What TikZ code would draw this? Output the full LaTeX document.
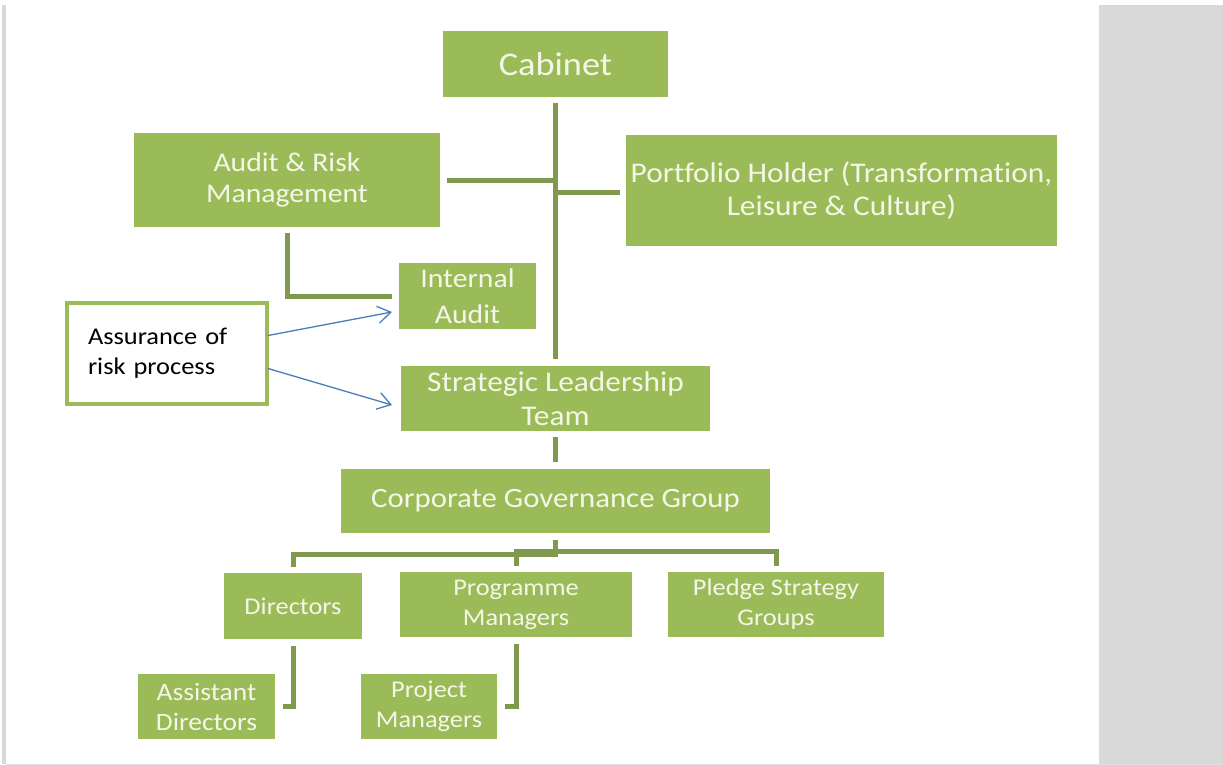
\documentclass[tikz,border=0pt]{standalone}
\usepackage{fontspec}
\setmainfont[FakeStretch=1.1,Ligatures=NoCommon]{Carlito}
\usetikzlibrary{arrows.meta,calc}
\definecolor{boxgreen}{HTML}{9BBB59}
\definecolor{linegreen}{HTML}{7F9A4E}
\definecolor{txt}{HTML}{F4F7E8}
\definecolor{arrowblue}{HTML}{4A7EBB}
\definecolor{panel}{HTML}{D9D9D9}
\newcommand\fsz[2]{\fontsize{#1}{#2}\selectfont}
\begin{document}
\begin{tikzpicture}[x=1pt,y=-1pt,
  gbox/.style 2 args={fill=boxgreen, text=txt, align=center, inner sep=0pt, outer sep=0pt,
    minimum width=#1, minimum height=#2},
  assbox/.style={draw=boxgreen, line width=4.5pt, fill=white, text=black, align=left,
    inner sep=0pt, outer sep=0pt, minimum width=200pt, minimum height=101pt, text width=158pt},
  conn/.style={draw=linegreen, line width=5pt},
  arr/.style={draw=arrowblue, line width=1.3pt, -{Straight Barb[length=13pt,width=17pt,line width=1.3pt]}}]
\useasboundingbox (0,0) rectangle (1223,765);
\fill[white] (0,0) rectangle (1223,765);
\fill[panel] (2,5) rectangle (6,764);
\fill[panel] (1099,5) rectangle (1223,764);
\fill[panel!80] (6,763.5) rectangle (1223,765);

% nodes
\node[gbox={225pt}{66pt}, font=\fsz{33}{38}] (cab) at (555.5,64) {Cabinet};
\node[gbox={306pt}{94pt}, font=\fsz{27}{31}] (arm) at (287,180) {Audit \& Risk\\Management};
\node[gbox={431pt}{111pt}, font=\fsz{28.5}{33}] (port) at (841.5,190.5) {Portfolio Holder (Transformation,\\Leisure \& Culture)};
\node[gbox={137pt}{66pt}, font=\fsz{27}{36}] (ia) at (467.5,296) {Internal\\Audit};
\node[assbox, font=\fsz{24}{30}] (ass) at (167,353.5) {Assurance of\\risk process};
\node[gbox={309pt}{65pt}, font=\fsz{28.5}{34}] (slt) at (555.5,398.5) {Strategic Leadership\\Team};
\node[gbox={429pt}{64pt}, font=\fsz{28}{32}] (cgg) at (555.5,501) {Corporate Governance Group};
\node[gbox={138pt}{66pt}, font=\fsz{24}{30}] (dir) at (293,606) {Directors};
\node[gbox={232pt}{65pt}, font=\fsz{24}{30}] (pm) at (516,604.5) {Programme\\Managers};
\node[gbox={216pt}{65pt}, font=\fsz{24}{30}] (pl) at (776,604.5) {Pledge Strategy\\Groups};
\node[gbox={137pt}{65pt}, font=\fsz{25}{30}] (ad) at (206.5,706.5) {Assistant\\Directors};
\node[gbox={136pt}{65pt}, font=\fsz{24}{30}] (pj) at (429,706.5) {Project\\Managers};

% connectors
\draw[conn, shorten <=6pt, shorten >=7pt] (cab) -- (slt);
\draw[conn, shorten <=7pt] (arm.east) -- (cab.south |- arm.east);
\coordinate (j2) at (555.5,192);
\draw[conn, shorten >=6pt] (j2) -- (j2 -| port.west);
\draw[conn, shorten <=6pt, shorten >=7pt] (arm.south) |- (ia.west);
\draw[conn, shorten <=6pt, shorten >=7pt] (slt) -- (cgg);
\coordinate (busL) at (555.5,554);
\coordinate (busR) at (555.5,551);
\draw[conn, shorten <=7pt] (cgg.south) -- ($(busL)+(0,2.5)$);
\draw[conn, shorten >=6pt] (busL) -| (dir.north);
\draw[conn, shorten >=6pt] (busR) -| (pm.north);
\draw[conn, shorten >=6pt] (busR) -| (pl.north);
\draw[conn, shorten <=7pt, shorten >=8pt] (dir.south) |- (ad.east);
\draw[conn, shorten <=7pt, shorten >=8pt] (pm.south) |- (pj.east);

% arrows
\draw[arr] ($(ass.east)+(1,-18)$) -- ($(ia.west)+(-7,16)$);
\draw[arr] ($(ass.east)+(1,15)$) -- ($(slt.west)+(-9,6.5)$);
\end{tikzpicture}
\end{document}
